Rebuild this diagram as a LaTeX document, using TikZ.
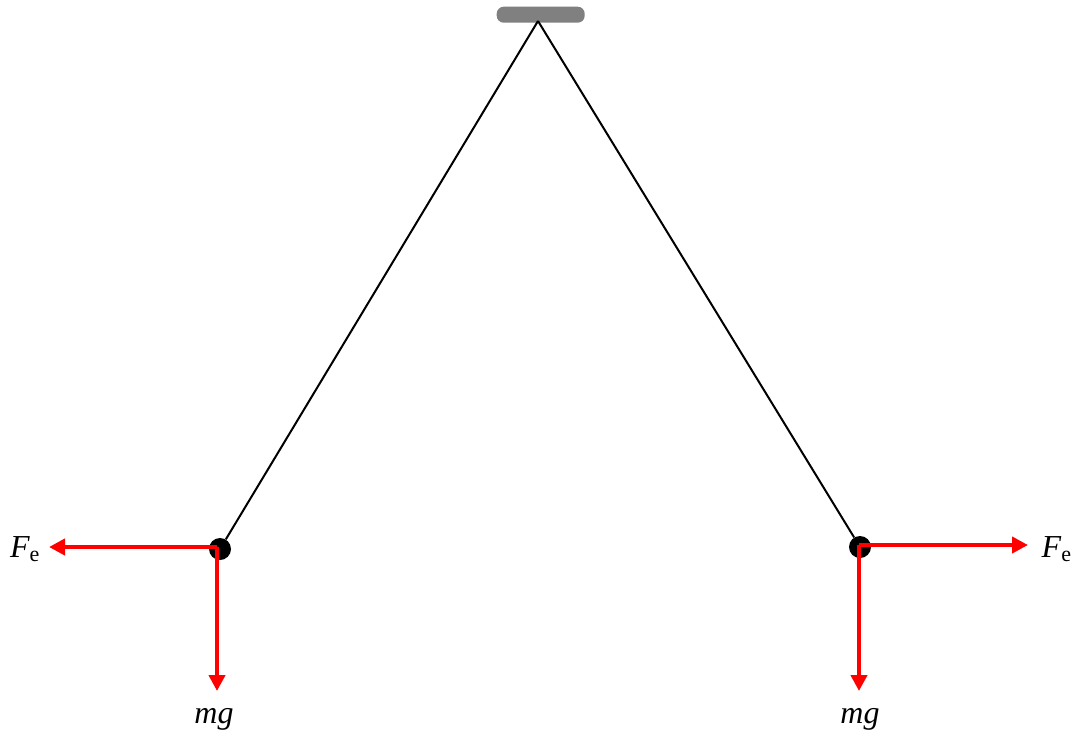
\documentclass[tikz,border=0pt]{standalone}
\usepackage{fontspec}
\setmainfont{Liberation Serif}
\usetikzlibrary{arrows.meta}
\newcommand{\felabel}{F\raisebox{-4pt}{\fontsize{22}{22}\selectfont\upshape e}}
\tikzset{
    charge/.style={circle,fill=black,inner sep=0pt,minimum size=22pt},
    support/.style={rectangle,rounded corners=7pt,fill=black!50,inner sep=0pt,minimum width=88pt,minimum height=16pt},
    thread/.style={black,line width=2pt},
    force/.style={red,line width=4pt,-{Triangle[length=16pt,width=16pt]}},
    forcelabel/.style={inner sep=0pt,font=\fontsize{32}{32}\selectfont\itshape}
}
\begin{document}
\begin{tikzpicture}[x=1pt,y=-1pt]
        \useasboundingbox (0,0) rectangle (1073,732);
        %% support
        \node[support] (bar) at (540.7,14.7) {};
        \coordinate (pivot) at (538,21);
        %% left charge
        \node[charge] (qa) at (220,549) {};
        \draw[thread] (pivot) -- (qa);
        \coordinate (qaf) at (217,547);
        \node[forcelabel,anchor=base west] (fa) at (10,557) {\felabel};
        \node[forcelabel,anchor=base] (ga) at (214,723.5) {mg};
        \coordinate (fatip) at (49,547);
        \coordinate (gatip) at (217,691);
        \draw[force] (qaf) -- (fatip);
        \draw[force] (qaf) -- (gatip);
        %% right charge
        \node[charge] (qb) at (860,547) {};
        \draw[thread] (pivot) -- (qb);
        \coordinate (qbf) at (859,545);
        \node[forcelabel,anchor=base west] (fb) at (1041.5,557) {\felabel};
        \node[forcelabel,anchor=base] (gb) at (860,723.5) {mg};
        \coordinate (fbtip) at (1028,545);
        \coordinate (gbtip) at (859,691);
        \draw[force] (qbf) -- (fbtip);
        \draw[force] (qbf) -- (gbtip);
    \end{tikzpicture}
\end{document}
